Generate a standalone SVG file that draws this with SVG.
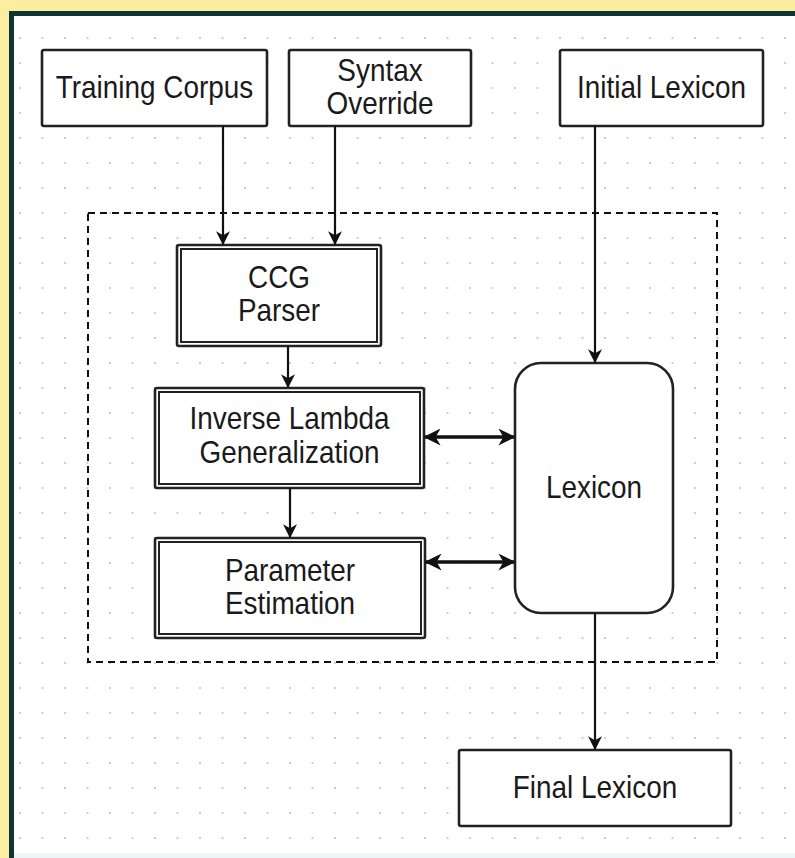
<svg xmlns="http://www.w3.org/2000/svg" width="795" height="858" viewBox="0 0 795 858">
  <defs>
    <pattern id="grid" x="20" y="13" width="22.5" height="25" patternUnits="userSpaceOnUse">
      <rect x="-1" y="-1" width="2" height="2" fill="#cfcfcf"/>
      <rect x="21.5" y="-1" width="2" height="2" fill="#cfcfcf"/>
      <rect x="-1" y="24" width="2" height="2" fill="#cfcfcf"/>
      <rect x="21.5" y="24" width="2" height="2" fill="#cfcfcf"/>
    </pattern>
    <marker id="arr" viewBox="0 0 12 12" refX="11" refY="6" markerWidth="14" markerHeight="14" markerUnits="userSpaceOnUse" orient="auto-start-reverse">
      <path d="M0,0 L12,6 L0,12 L3.5,6 Z" fill="#111"/>
    </marker>
    <marker id="arrB" viewBox="0 0 12 12" refX="11" refY="6" markerWidth="17" markerHeight="17" markerUnits="userSpaceOnUse" orient="auto-start-reverse">
      <path d="M0,0 L12,6 L0,12 L3.5,6 Z" fill="#111"/>
    </marker>
  </defs>
  <style>
    .box { fill: #fff; stroke: #222; stroke-width: 2.6; }
    .dbl { fill: none; stroke: #222; stroke-width: 2; }
    .lbl { font-family: "Liberation Sans", Arial, sans-serif; font-size: 31px; fill: #1a1a1a; text-anchor: middle; }
    .edge { fill: none; stroke: #111; stroke-width: 2.2; }
    .edge2 { fill: none; stroke: #111; stroke-width: 3.5; }
  </style>

  <!-- frame -->
  <rect x="0" y="0" width="795" height="858" fill="#fbeea0"/>
  <rect x="9" y="11" width="786" height="847" fill="#0f3434"/>
  <rect x="14" y="16" width="781" height="842" fill="#ffffff"/>
  <rect x="14" y="853" width="781" height="5" fill="#eef6fb"/>
  <rect x="14" y="16" width="781" height="837" fill="url(#grid)"/>

  <!-- group boundary -->
  <rect x="88" y="213" width="629" height="449" fill="none" stroke="#111" stroke-width="2" stroke-dasharray="7,5"/>

  <g id="training-corpus">
    <rect class="box" x="42" y="50" width="225" height="76" rx="2"/>
    <text class="lbl" transform="translate(154.5,98) scale(0.9,1)">Training Corpus</text>
  </g>
  <g id="syntax-override">
    <rect class="box" x="289" y="50" width="182" height="76" rx="2"/>
    <text class="lbl" transform="translate(380,81) scale(0.9,1)">Syntax</text>
    <text class="lbl" transform="translate(380,114) scale(0.9,1)">Override</text>
  </g>
  <g id="initial-lexicon">
    <rect class="box" x="560" y="50" width="203" height="76" rx="2"/>
    <text class="lbl" transform="translate(661.5,98) scale(0.9,1)">Initial Lexicon</text>
  </g>
  <g id="ccg-parser">
    <rect class="box" x="177" y="245" width="204" height="101" rx="2"/>
    <rect class="dbl" x="181" y="249" width="196" height="93"/>
    <text class="lbl" transform="translate(279,288) scale(0.9,1)">CCG</text>
    <text class="lbl" transform="translate(279,321) scale(0.9,1)">Parser</text>
  </g>
  <g id="inverse-lambda">
    <rect class="box" x="155" y="388" width="269" height="100" rx="2"/>
    <rect class="dbl" x="159" y="392" width="261" height="92"/>
    <text class="lbl" transform="translate(289.5,429) scale(0.9,1)">Inverse Lambda</text>
    <text class="lbl" transform="translate(289.5,463) scale(0.9,1)">Generalization</text>
  </g>
  <g id="parameter-estimation">
    <rect class="box" x="155" y="538" width="270" height="100" rx="2"/>
    <rect class="dbl" x="159" y="542" width="262" height="92"/>
    <text class="lbl" transform="translate(290,581) scale(0.9,1)">Parameter</text>
    <text class="lbl" transform="translate(290,614) scale(0.9,1)">Estimation</text>
  </g>
  <g id="lexicon">
    <rect class="box" x="515" y="363" width="158" height="250" rx="26"/>
    <text class="lbl" transform="translate(594,498) scale(0.9,1)">Lexicon</text>
  </g>
  <g id="final-lexicon">
    <rect class="box" x="459" y="750" width="272" height="76" rx="2"/>
    <text class="lbl" transform="translate(595,798) scale(0.9,1)">Final Lexicon</text>
  </g>

  <g id="connectors">
    <line class="edge" x1="223" y1="126" x2="223" y2="244" marker-end="url(#arr)"/>
    <line class="edge" x1="335" y1="126" x2="335" y2="244" marker-end="url(#arr)"/>
    <line class="edge" x1="595" y1="126" x2="595" y2="362" marker-end="url(#arr)"/>
    <line class="edge" x1="288" y1="346" x2="288" y2="387" marker-end="url(#arr)"/>
    <line class="edge" x1="290" y1="488" x2="290" y2="537" marker-end="url(#arr)"/>
    <line class="edge" x1="595" y1="613" x2="595" y2="749" marker-end="url(#arr)"/>
    <line class="edge2" x1="425" y1="437" x2="514" y2="437" marker-start="url(#arrB)" marker-end="url(#arrB)"/>
    <line class="edge2" x1="426" y1="562" x2="514" y2="562" marker-start="url(#arrB)" marker-end="url(#arrB)"/>
  </g>
</svg>
